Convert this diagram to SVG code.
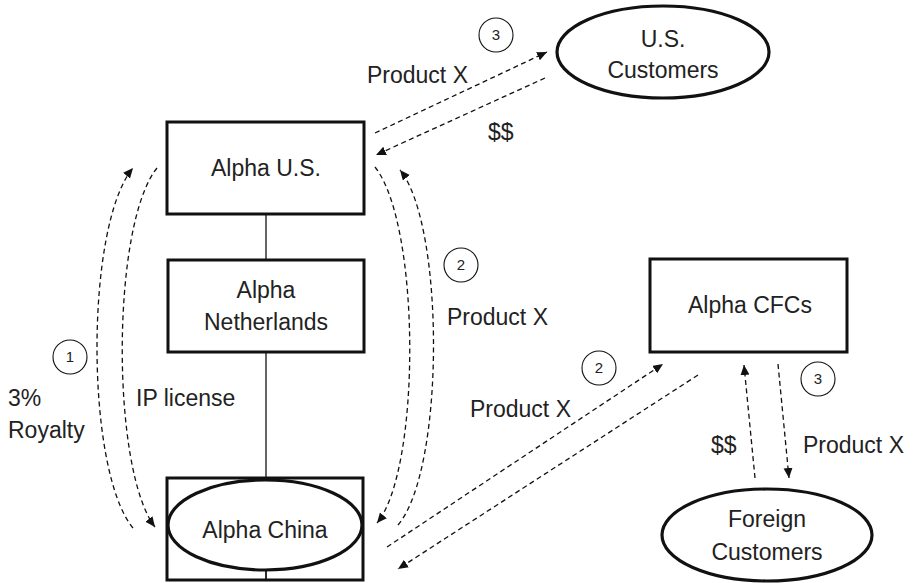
<svg xmlns="http://www.w3.org/2000/svg" width="916" height="583" viewBox="0 0 916 583">
<defs>
<marker id="ah" markerWidth="12" markerHeight="10" refX="10" refY="4.5" orient="auto" markerUnits="userSpaceOnUse"><path d="M0,0 L10,4.5 L0,9 z" fill="#111"/></marker>
<style>
.box{fill:#fff;stroke:#111;stroke-width:3}
.ell{fill:#fff;stroke:#111;stroke-width:3.2}
.solid{stroke:#111;stroke-width:1.3;fill:none}
.dash{stroke:#111;stroke-width:1.3;fill:none;stroke-dasharray:5 3.5}
.arr{marker-end:url(#ah)}
.t{font-family:"Liberation Sans",Arial,sans-serif;font-size:23px;fill:#222}
.c{text-anchor:middle}
.num{fill:#fff;stroke:#111;stroke-width:1.1}
.nt{font-family:"Liberation Sans",Arial,sans-serif;font-size:15px;fill:#222;text-anchor:middle}
</style>
</defs>
<rect width="916" height="583" fill="#fff"/>

<g id="connectors">
<line class="solid" x1="266" y1="214" x2="266" y2="260"/>
<line class="solid" x1="266" y1="352" x2="266" y2="580"/>
<line class="dash arr" x1="375" y1="133" x2="547" y2="52"/>
<line class="dash arr" x1="545" y1="78" x2="376" y2="155"/>
<path class="dash arr" d="M133,528 C85,470 85,225 133,168"/>
<path class="dash arr" d="M157,168 C111,225 111,470 155,527"/>
<path class="dash arr" d="M375,167 C421,225 421,470 377,523"/>
<path class="dash arr" d="M398,525 C445,470 445,225 400,170"/>
<line class="dash arr" x1="387" y1="547" x2="663" y2="364"/>
<line class="dash arr" x1="698" y1="375" x2="398" y2="569"/>
<line class="dash arr" x1="755" y1="478" x2="744" y2="365"/>
<line class="dash arr" x1="778" y1="364" x2="789" y2="478"/>
</g>

<g id="alpha-us">
<rect class="box" x="167" y="122" width="197" height="92"/>
<text class="t c" x="266" y="176">Alpha U.S.</text>
</g>
<g id="alpha-netherlands">
<rect class="box" x="168" y="260" width="196" height="92"/>
<text class="t c" x="266" y="298">Alpha</text>
<text class="t c" x="266" y="330">Netherlands</text>
</g>
<g id="alpha-china">
<rect x="167" y="478" width="196" height="102" fill="none" stroke="#111" stroke-width="3"/>
<line class="solid" x1="266" y1="478" x2="266" y2="580"/>
<ellipse class="ell" cx="265" cy="525" rx="97" ry="45"/>
<text class="t c" x="265" y="538">Alpha China</text>
</g>
<g id="us-customers">
<ellipse class="ell" cx="663" cy="52" rx="106" ry="46"/>
<text class="t c" x="663" y="47">U.S.</text>
<text class="t c" x="663" y="78">Customers</text>
</g>
<g id="alpha-cfcs">
<rect class="box" x="650" y="259" width="197" height="93"/>
<text class="t c" x="750" y="313">Alpha CFCs</text>
</g>
<g id="foreign-customers">
<ellipse class="ell" cx="767" cy="535" rx="105" ry="46"/>
<text class="t c" x="767" y="527">Foreign</text>
<text class="t c" x="767" y="560">Customers</text>
</g>

<g id="labels">
<text class="t" x="367" y="83">Product X</text>
<text class="t" x="488" y="140">$$</text>
<text class="t" x="447" y="325">Product X</text>
<text class="t" x="470" y="417">Product X</text>
<text class="t" x="711" y="453">$$</text>
<text class="t" x="803" y="453">Product X</text>
<text class="t" x="8" y="406">3%</text>
<text class="t" x="8" y="438">Royalty</text>
<text class="t" x="136" y="406">IP license</text>
</g>

<g id="step-numbers">
<circle class="num" cx="496" cy="35" r="17"/><text class="nt" x="496" y="40">3</text>
<circle class="num" cx="70" cy="357" r="17"/><text class="nt" x="70" y="362">1</text>
<circle class="num" cx="461" cy="265" r="17"/><text class="nt" x="461" y="270">2</text>
<circle class="num" cx="599" cy="368" r="17"/><text class="nt" x="599" y="373">2</text>
<circle class="num" cx="818" cy="379" r="17"/><text class="nt" x="818" y="384">3</text>
</g>
</svg>
